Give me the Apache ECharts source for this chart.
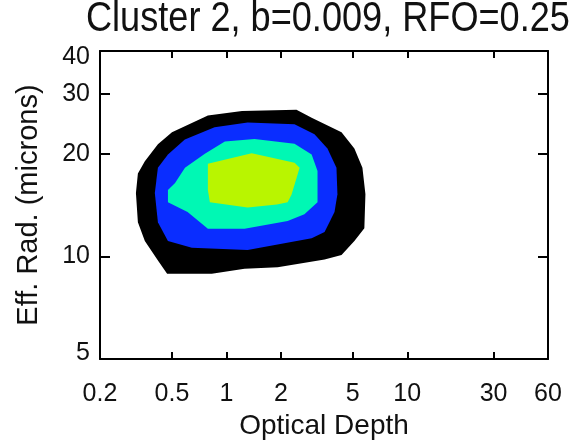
<!DOCTYPE html>
<html>
<head>
<meta charset="utf-8">
<script src="https://cdn.jsdelivr.net/npm/echarts@6/dist/echarts.min.js"></script>
<style>
  html, body { margin: 0; padding: 0; background: #fff; }
  #chart { width: 571px; height: 445px; }
</style>
</head>
<body>
<div id="chart"></div>
<script>
// tick labels
const xTicks = [0.2, 0.5, 1, 2, 5, 10, 30, 60]
const yTicks = [5, 10, 20, 30, 40]

// filled contour levels, outermost first: [optical depth, eff. radius]
const level1 = [
  [0.79, 25.9], [1.22, 26.7], [2.44, 26.9], [2.96, 25.5], [4.33, 23.1], [5.10, 20.7],
  [5.65, 18.2], [5.87, 15.2], [5.79, 12.1], [5.10, 11.1], [4.33, 10.1], [3.49, 9.8],
  [1.92, 9.3], [1.26, 9.2], [0.83, 8.9], [0.47, 8.9], [0.42, 9.7], [0.354, 11.1],
  [0.324, 12.6], [0.316, 15.35], [0.324, 17.5], [0.354, 19.0], [0.418, 21.3], [0.50, 23.1]
]
const level2 = [
  [0.86, 23.9], [1.31, 24.7], [2.38, 24.4], [3.07, 22.8], [3.62, 20.7], [4.06, 18.2],
  [4.11, 15.2], [3.96, 13.5], [3.49, 11.8], [2.96, 11.3], [1.31, 10.45], [0.644, 10.6],
  [0.475, 11.1], [0.418, 12.6], [0.402, 15.35], [0.418, 18.2], [0.475, 19.9], [0.589, 22.0]
]
const level3 = [
  [0.76, 20.0], [0.98, 21.7], [1.43, 22.1], [2.38, 21.4], [2.96, 19.9], [3.19, 17.8],
  [3.19, 14.4], [2.70, 13.3], [2.18, 12.7], [1.26, 12.06], [0.79, 12.06], [0.61, 13.5],
  [0.475, 14.4], [0.475, 15.65], [0.52, 16.4], [0.59, 18.2]
]
const level4 = [
  [0.79, 18.7], [1.38, 20.05], [2.38, 18.8], [2.54, 18.2], [2.29, 15.15], [2.18, 14.4],
  [1.90, 14.2], [1.31, 13.9], [0.81, 14.4], [0.79, 15.65]
]
const levels = [level1, level2, level3, level4]
const levelColors = ['#000000', '#0a2dff', '#00f8b4', '#b9f500']

const font = 'Liberation Sans, Arial, sans-serif'
const textColor = '#111'

function logAxis(pos, min, max, ticks, showLabel, tickLen) {
  return {
    type: 'log',
    logBase: 10,
    position: pos,
    min: min,
    max: max,
    axisLine: { show: true, onZero: false, lineStyle: { color: '#000', width: 2 } },
    axisTick: { show: true, inside: true, length: tickLen, lineStyle: { color: '#000', width: 2 }, customValues: ticks },
    axisLabel: {
      show: showLabel,
      customValues: ticks,
      color: textColor,
      fontFamily: font,
      fontSize: 25,
      margin: 12,
      formatter: v => String(+v.toPrecision(3))
    },
    minorTick: { show: false },
    splitLine: { show: false }
  }
}

const chart = echarts.init(document.getElementById('chart'))

const bottomX = logAxis('bottom', 0.2, 60, xTicks, true, 7)
bottomX.axisLabel.margin = 23
bottomX.name = 'Optical Depth'
bottomX.nameLocation = 'middle'
bottomX.nameGap = 50
bottomX.nameTextStyle = { color: textColor, fontFamily: font, fontSize: 28 }

// the end labels of the y axis sit a little inside the frame
const leftY = logAxis('left', 5, 40, yTicks, true, 10)
leftY.axisLabel.margin = 10
leftY.axisLabel.formatter = v => {
  const s = String(+v.toPrecision(3))
  if (v >= 39) return '{hi|' + s + '}'
  if (v <= 5.1) return '{lo|' + s + '}'
  return s
}
leftY.axisLabel.rich = {
  hi: { fontFamily: font, fontSize: 25, color: textColor, padding: [12, 0, 0, 0] },
  lo: { fontFamily: font, fontSize: 25, color: textColor, padding: [0, 0, 12, 0] }
}
leftY.name = 'Eff. Rad. (microns)'
leftY.nameLocation = 'middle'
leftY.nameGap = 57
leftY.nameTextStyle = { color: textColor, fontFamily: font, fontSize: 29 }

chart.setOption({
  animation: false,
  graphic: [{
    type: 'text',
    x: 86,
    y: -2,
    scaleX: 0.86,
    silent: true,
    style: {
      text: 'Cluster 2, b=0.009, RFO=0.25',
      fill: textColor,
      fontFamily: font,
      fontSize: 42
    }
  }],
  grid: { left: 100, right: 23, top: 51, bottom: 75, containLabel: false },
  xAxis: [bottomX, logAxis('top', 0.2, 60, xTicks, false, 7)],
  yAxis: [leftY, logAxis('right', 5, 40, yTicks, false, 10)],
  series: [{
    type: 'custom',
    coordinateSystem: 'cartesian2d',
    silent: true,
    clip: true,
    data: levels.map(l => l[0]),
    renderItem(params, api) {
      const poly = levels[params.dataIndex]
      return {
        type: 'polygon',
        shape: { points: poly.map(p => api.coord(p)), smooth: 0 },
        style: { fill: levelColors[params.dataIndex], stroke: null }
      }
    }
  }]
})
</script>
</body>
</html>
